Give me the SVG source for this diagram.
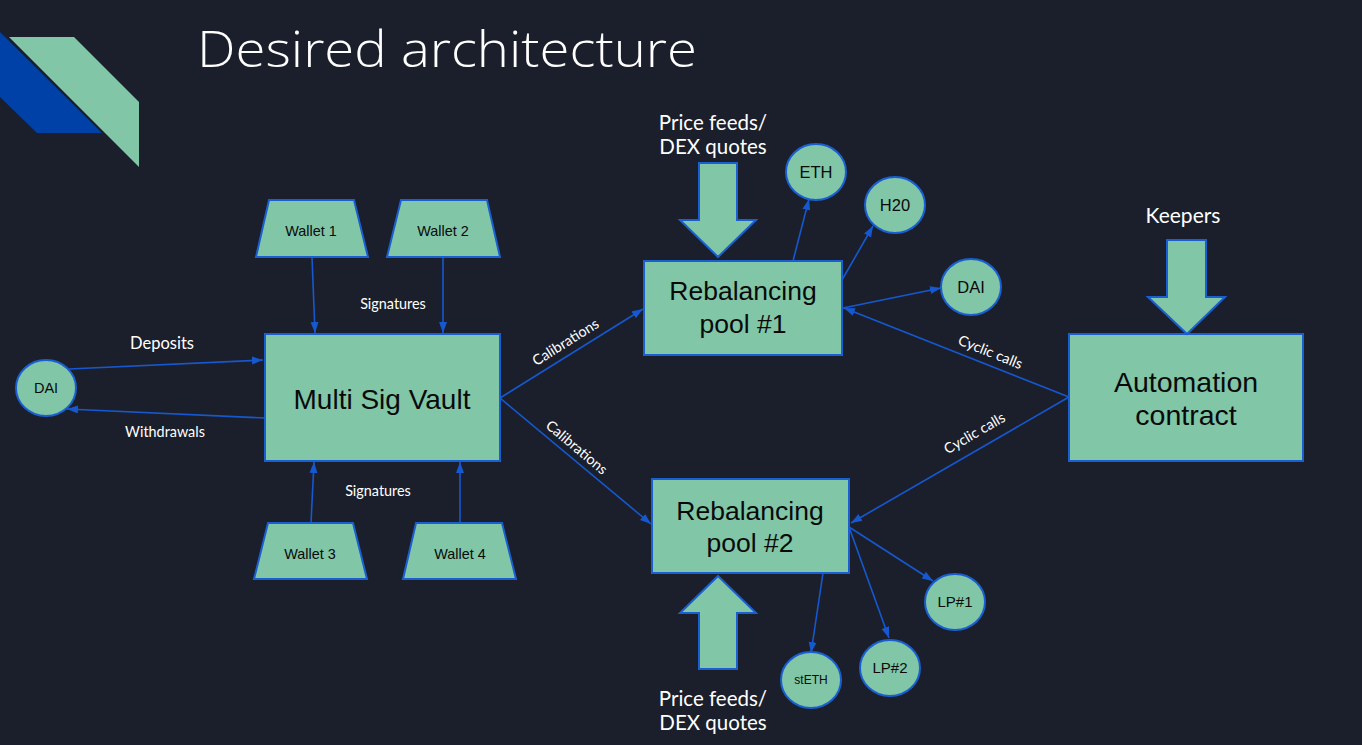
<svg xmlns="http://www.w3.org/2000/svg" width="1362" height="745" viewBox="0 0 1362 745">
<defs>
<marker id="ah" markerUnits="userSpaceOnUse" markerWidth="12" markerHeight="10" refX="11" refY="4" orient="auto">
<path d="M0,0 L11,4 L0,8 Z" fill="#1558d0"/>
</marker>
<style>
.n{fill:#80c6a7;stroke:#1a5fd1;stroke-width:2}
.c{stroke:#1558d0;stroke-width:1.6;fill:none;marker-end:url(#ah)}
.t{font-family:"Liberation Sans",Arial,sans-serif;fill:#0a0a0a;text-anchor:middle}
.l{font-family:Lato,"Liberation Sans",sans-serif;fill:#ffffff;text-anchor:middle}
.rb{font-size:26.5px}
.sm{font-size:14.4px}
.cir{font-size:16.5px}
.lbl{font-size:14.4px}
.lbl2{font-size:20.5px}
</style>
</defs>
<rect width="1362" height="745" fill="#1b1f2b"/>
<g id="decor">
<polygon points="0,32 102,133 37,133 0,97" fill="#0041a8"/>
<polygon points="9,37 74,37 139,102 139,167" fill="#80c6a7"/>
</g>
<text x="197" y="67" font-family="'Open Sans','Liberation Sans',sans-serif" font-weight="300" font-size="49" fill="#ffffff" textLength="500" lengthAdjust="spacingAndGlyphs">Desired architecture</text>

<g id="connectors">
<line class="c" x1="312" y1="257" x2="315" y2="333"/>
<line class="c" x1="443" y1="257" x2="443" y2="333"/>
<line class="c" x1="311" y1="523" x2="314" y2="462"/>
<line class="c" x1="460" y1="523" x2="460" y2="462"/>
<line class="c" x1="69" y1="369" x2="263" y2="360"/>
<line class="c" x1="265" y1="418" x2="67" y2="409"/>
<line class="c" x1="500" y1="398" x2="643" y2="309"/>
<line class="c" x1="500" y1="398" x2="651" y2="524"/>
<line class="c" x1="793" y1="261" x2="809" y2="199"/>
<line class="c" x1="842" y1="280" x2="873" y2="226"/>
<line class="c" x1="843" y1="308" x2="941" y2="288"/>
<line class="c" x1="1069" y1="397" x2="844" y2="308"/>
<line class="c" x1="1069" y1="397" x2="851" y2="523"/>
<line class="c" x1="823" y1="573" x2="811" y2="653"/>
<line class="c" x1="849" y1="527" x2="889" y2="638"/>
<line class="c" x1="849" y1="527" x2="933" y2="581"/>
<text class="l lbl" x="393" y="309">Signatures</text>
<text class="l lbl" x="378" y="496">Signatures</text>
<text class="l" font-size="16.5" x="162" y="349">Deposits</text>
<text class="l lbl" x="165" y="437">Withdrawals</text>
<text class="l lbl" transform="translate(566,343) rotate(-32)" y="4">Calibrations</text>
<text class="l lbl" transform="translate(576,448) rotate(40)" y="4">Calibrations</text>
<text class="l lbl" transform="translate(990,353) rotate(22)" y="4">Cyclic calls</text>
<text class="l lbl" transform="translate(975,434) rotate(-30)" y="4">Cyclic calls</text>
</g>

<g id="vault">
<rect class="n" x="265" y="334" width="235" height="127"/>
<text class="t" font-size="28" x="382" y="409">Multi Sig Vault</text>
</g>
<g id="dai-left">
<ellipse class="n" cx="46" cy="388" rx="30" ry="28"/>
<text class="t" font-size="14.5" x="46" y="393">DAI</text>
</g>
<g id="wallet1">
<polygon class="n" points="269,200 354,200 368,257 256,257"/>
<text class="t sm" x="311" y="236">Wallet 1</text>
</g>
<g id="wallet2">
<polygon class="n" points="401,200 487,200 500,257 387,257"/>
<text class="t sm" x="443" y="236">Wallet 2</text>
</g>
<g id="wallet3">
<polygon class="n" points="268,523 353,523 367,579 254,579"/>
<text class="t sm" x="310" y="559">Wallet 3</text>
</g>
<g id="wallet4">
<polygon class="n" points="416,523 502,523 516,579 403,579"/>
<text class="t sm" x="460" y="559">Wallet 4</text>
</g>

<g id="pool1">
<rect class="n" x="644" y="261" width="198" height="94"/>
<text class="t rb" x="743" y="300">Rebalancing</text>
<text class="t rb" x="743" y="333">pool #1</text>
</g>
<g id="feed1">
<polygon class="n" points="699,163 737,163 737,220 756,220 718,257 680,220 699,220"/>
<text class="l lbl2" x="713" y="130">Price feeds/</text>
<text class="l lbl2" x="713" y="154">DEX quotes</text>
</g>
<g id="eth">
<ellipse class="n" cx="816" cy="172" rx="30" ry="28"/>
<text class="t cir" x="816" y="178">ETH</text>
</g>
<g id="h20">
<ellipse class="n" cx="895" cy="205" rx="30" ry="28"/>
<text class="t cir" x="895" y="211">H20</text>
</g>
<g id="dai-right">
<ellipse class="n" cx="971" cy="287" rx="30" ry="28"/>
<text class="t cir" x="971" y="293">DAI</text>
</g>

<g id="automation">
<rect class="n" x="1069" y="334" width="234" height="127"/>
<text class="t" font-size="28.5" x="1186" y="392">Automation</text>
<text class="t" font-size="28.5" x="1186" y="425">contract</text>
</g>
<g id="keepers">
<polygon class="n" points="1167,240 1206,240 1206,297 1225,297 1187,334 1148,297 1167,297"/>
<text class="l" font-size="21" x="1183" y="223">Keepers</text>
</g>

<g id="pool2">
<rect class="n" x="652" y="479" width="197" height="94"/>
<text class="t rb" x="750" y="520">Rebalancing</text>
<text class="t rb" x="750" y="552">pool #2</text>
</g>
<g id="feed2">
<polygon class="n" points="718,576 756,613 737,613 737,669 699,669 699,613 680,613"/>
<text class="l lbl2" x="713" y="706">Price feeds/</text>
<text class="l lbl2" x="713" y="730">DEX quotes</text>
</g>
<g id="steth">
<ellipse class="n" cx="811" cy="680" rx="30" ry="28"/>
<text class="t" font-size="12" x="811" y="684">stETH</text>
</g>
<g id="lp2">
<ellipse class="n" cx="890" cy="668" rx="30" ry="28"/>
<text class="t" font-size="15" x="890" y="673">LP#2</text>
</g>
<g id="lp1">
<ellipse class="n" cx="955" cy="602" rx="30" ry="28"/>
<text class="t" font-size="15" x="955" y="607">LP#1</text>
</g>
</svg>
